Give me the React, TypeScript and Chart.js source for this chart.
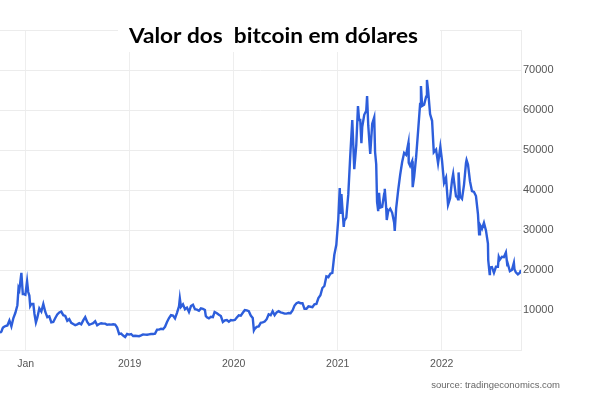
import React, { useEffect, useRef } from "react";
import { Chart, registerables } from "chart.js";

Chart.register(...registerables);

const TITLE = "Valor dos  bitcoin em dólares";
const SOURCE = "source: tradingeconomics.com";

const X_START = "2017-10-03";
const X_END = "2022-10-06";

const yearTicks = [2018, 2019, 2020, 2021, 2022];
const yearLabels = ["Jan", "2019", "2020", "2021", "2022"];
const yTicks = [10000, 20000, 30000, 40000, 50000, 60000, 70000];
const Y_MIN = 0;
const Y_MAX = 80000;

const dates = [
  "2017-10-03", "2017-10-08", "2017-10-12", "2017-10-15", "2017-10-22", "2017-10-29",
  "2017-11-05", "2017-11-12", "2017-11-19", "2017-11-26", "2017-12-03", "2017-12-07",
  "2017-12-10", "2017-12-17", "2017-12-22", "2017-12-24", "2017-12-31", "2018-01-06",
  "2018-01-10", "2018-01-14", "2018-01-17", "2018-01-21", "2018-01-28", "2018-02-01",
  "2018-02-06", "2018-02-11", "2018-02-18", "2018-02-25", "2018-03-04", "2018-03-11",
  "2018-03-18", "2018-03-25", "2018-04-01", "2018-04-08", "2018-04-15", "2018-04-22",
  "2018-04-29", "2018-05-06", "2018-05-13", "2018-05-20", "2018-05-27", "2018-06-03",
  "2018-06-10", "2018-06-17", "2018-06-24", "2018-07-01", "2018-07-08", "2018-07-15",
  "2018-07-22", "2018-07-29", "2018-08-05", "2018-08-12", "2018-08-19", "2018-08-26",
  "2018-09-02", "2018-09-09", "2018-09-16", "2018-09-23", "2018-09-30", "2018-10-07",
  "2018-10-14", "2018-10-21", "2018-10-28", "2018-11-04", "2018-11-11", "2018-11-18",
  "2018-11-25", "2018-12-02", "2018-12-09", "2018-12-16", "2018-12-23", "2018-12-30",
  "2019-01-06", "2019-01-13", "2019-01-20", "2019-01-27", "2019-02-03", "2019-02-10",
  "2019-02-17", "2019-02-24", "2019-03-03", "2019-03-10", "2019-03-17", "2019-03-24",
  "2019-03-31", "2019-04-07", "2019-04-14", "2019-04-21", "2019-04-28", "2019-05-05",
  "2019-05-12", "2019-05-19", "2019-05-26", "2019-06-02", "2019-06-09", "2019-06-16",
  "2019-06-23", "2019-06-26", "2019-06-30", "2019-07-07", "2019-07-14", "2019-07-21",
  "2019-07-28", "2019-08-04", "2019-08-11", "2019-08-18", "2019-08-25", "2019-09-01",
  "2019-09-08", "2019-09-15", "2019-09-22", "2019-09-25", "2019-09-29", "2019-10-06",
  "2019-10-13", "2019-10-20", "2019-10-26", "2019-11-03", "2019-11-10", "2019-11-17",
  "2019-11-24", "2019-12-01", "2019-12-08", "2019-12-15", "2019-12-22", "2019-12-29",
  "2020-01-05", "2020-01-12", "2020-01-19", "2020-01-26", "2020-02-02", "2020-02-09",
  "2020-02-16", "2020-02-23", "2020-03-01", "2020-03-08", "2020-03-12", "2020-03-15",
  "2020-03-22", "2020-03-29", "2020-04-05", "2020-04-12", "2020-04-19", "2020-04-26",
  "2020-05-03", "2020-05-10", "2020-05-17", "2020-05-24", "2020-05-31", "2020-06-07",
  "2020-06-14", "2020-06-21", "2020-06-28", "2020-07-05", "2020-07-12", "2020-07-19",
  "2020-07-26", "2020-08-02", "2020-08-09", "2020-08-16", "2020-08-23", "2020-08-30",
  "2020-09-06", "2020-09-13", "2020-09-20", "2020-09-27", "2020-10-04", "2020-10-11",
  "2020-10-18", "2020-10-25", "2020-11-01", "2020-11-08", "2020-11-15", "2020-11-22",
  "2020-11-29", "2020-12-06", "2020-12-13", "2020-12-20", "2020-12-27", "2021-01-03",
  "2021-01-08", "2021-01-11", "2021-01-14", "2021-01-17", "2021-01-22", "2021-01-24",
  "2021-01-31", "2021-02-07", "2021-02-14", "2021-02-21", "2021-02-28", "2021-03-07",
  "2021-03-13", "2021-03-17", "2021-03-21", "2021-03-25", "2021-03-28", "2021-04-04",
  "2021-04-11", "2021-04-14", "2021-04-18", "2021-04-25", "2021-05-02", "2021-05-09",
  "2021-05-12", "2021-05-16", "2021-05-19", "2021-05-23", "2021-05-26", "2021-05-30",
  "2021-06-06", "2021-06-13", "2021-06-15", "2021-06-20", "2021-06-22", "2021-06-27",
  "2021-07-04", "2021-07-11", "2021-07-18", "2021-07-20", "2021-07-25", "2021-08-01",
  "2021-08-08", "2021-08-15", "2021-08-22", "2021-08-29", "2021-09-06", "2021-09-07",
  "2021-09-12", "2021-09-19", "2021-09-21", "2021-09-26", "2021-10-03", "2021-10-10",
  "2021-10-17", "2021-10-20", "2021-10-24", "2021-10-31", "2021-11-07", "2021-11-10",
  "2021-11-14", "2021-11-21", "2021-11-28", "2021-12-04", "2021-12-12", "2021-12-19",
  "2021-12-27", "2022-01-02", "2022-01-09", "2022-01-16", "2022-01-23", "2022-01-30",
  "2022-02-06", "2022-02-10", "2022-02-13", "2022-02-20", "2022-02-24", "2022-02-27",
  "2022-03-01", "2022-03-06", "2022-03-13", "2022-03-20", "2022-03-27", "2022-03-29",
  "2022-04-03", "2022-04-10", "2022-04-17", "2022-04-24", "2022-05-01", "2022-05-08",
  "2022-05-12", "2022-05-15", "2022-05-22", "2022-05-29", "2022-06-05", "2022-06-12",
  "2022-06-13", "2022-06-18", "2022-06-19", "2022-06-26", "2022-07-03", "2022-07-10",
  "2022-07-17", "2022-07-20", "2022-07-24", "2022-07-31", "2022-08-07", "2022-08-14",
  "2022-08-19", "2022-08-21", "2022-08-28", "2022-09-04", "2022-09-11", "2022-09-13",
  "2022-09-18", "2022-09-25", "2022-10-02", "2022-10-06",
];

const prices = [
  4300, 4600, 5400, 5700, 6000, 6150,
  7400, 5900, 8000, 9300, 11200, 15500,
  15000, 19300, 14000, 14000, 13800, 17200,
  14500, 13600, 11000, 11500, 11500, 9000,
  6900, 8100, 10400, 9600, 11500, 9500,
  8200, 8400, 6900, 7000, 8000, 8900,
  9400, 9600, 8700, 8500, 7300, 7700,
  6800, 6500, 6200, 6400, 6700, 6400,
  7400, 8200, 7000, 6300, 6500, 6700,
  7200, 6200, 6500, 6700, 6600, 6600,
  6300, 6400, 6350, 6450, 6350, 5600,
  4000, 4100, 3600, 3250, 4000, 3850,
  4000, 3500, 3550, 3500, 3450, 3650,
  3900, 3850, 3800, 3900, 4000, 4000,
  4100, 5100, 5100, 5300, 5200, 5800,
  7000, 8000, 8700, 8600, 7900, 9300,
  10900, 12900, 10800, 11400, 10200, 10600,
  9500, 11000, 11300, 10200, 10100, 9800,
  10400, 10300, 10000, 8500, 8200, 7900,
  8300, 8200, 9500, 9200, 8800, 8500,
  7000, 7400, 7500, 7100, 7500, 7400,
  7500, 8100, 8700, 8600, 9300, 10000,
  9900, 9700, 8600, 8000, 4900, 5300,
  5800, 5900, 6800, 6900, 7100, 7700,
  8900, 8700, 9700, 8700, 9400, 9700,
  9400, 9300, 9100, 9100, 9250, 9200,
  9900, 11100, 11700, 11900, 11700, 11700,
  10300, 10300, 10900, 10800, 10700, 11400,
  11500, 13000, 13700, 15500, 16000, 18400,
  18200, 19100, 19300, 23800, 26300, 32800,
  40500, 34000, 39000, 35800, 30800, 32300,
  33100, 38900, 48700, 57500, 45200, 51200,
  61000, 57500, 57500, 51700, 55800, 58800,
  59800, 63500, 56200, 49000, 56600, 58200,
  49500, 46400, 37000, 34700, 39300, 35600,
  35800, 39100, 40300, 35500, 32500, 34700,
  35300, 34300, 31800, 29800, 35400, 39900,
  43800, 47000, 49300, 48800, 51800, 46800,
  46000, 47200, 40700, 43200, 48200, 54800,
  61500, 66000, 61000, 61300, 63300, 67500,
  65000, 59000, 57300, 49400, 50100, 46700,
  50800, 47300, 41800, 43100, 36300, 37900,
  42400, 44000, 42200, 38400, 38300, 37700,
  44400, 38400, 37800, 41300, 46800, 47500,
  46400, 42200, 39700, 39500, 38500, 34000,
  28900, 31300, 30300, 31800, 29900, 26600,
  22500, 19000, 20600, 20700, 19300, 20800,
  20800, 23300, 22600, 23300, 23200, 24400,
  21200, 21500, 19700, 20000, 21800, 20200,
  19400, 18900, 19300, 20000,
];

function toYear(d: string): number {
  const [y, m, dd] = d.split("-").map(Number);
  const start = Date.UTC(y, 0, 1);
  const end = Date.UTC(y + 1, 0, 1);
  return y + (Date.UTC(y, m - 1, dd) - start) / (end - start);
}

const overlayPlugin = {
  id: "overlay",
  afterDraw(chart: any) {
    const ctx = chart.ctx;
    ctx.save();
    ctx.fillStyle = "#ffffff";
    ctx.fillRect(118, 0, 322, 52);
    ctx.font = "bold 20px Lato";
    ctx.fillStyle = "#000000";
    ctx.textBaseline = "alphabetic";
    ctx.textAlign = "left";
    const w = ctx.measureText(TITLE).width;
    const sx = 289 / w;
    ctx.translate(129, 43);
    ctx.scale(sx, 1);
    ctx.fillText(TITLE, 0, 0);
    ctx.restore();

    ctx.save();
    ctx.font = "9.5px 'Liberation Sans'";
    ctx.fillStyle = "#666666";
    ctx.textAlign = "right";
    ctx.textBaseline = "middle";
    ctx.fillText(SOURCE, 560, 385);
    ctx.restore();
  },
};

export default function App() {
  const ref = useRef<HTMLCanvasElement | null>(null);

  useEffect(() => {
    if (!ref.current) return;
    const points = dates.map((d, i) => ({ x: toYear(d), y: prices[i] }));
    const chart = new Chart(ref.current, {
      type: "line",
      data: {
        datasets: [
          {
            data: points,
            borderColor: "#2d5edb",
            borderWidth: 2.4,
            pointRadius: 0,
            tension: 0,
            fill: false,
          },
        ],
      },
      options: {
        animation: false,
        responsive: false,
        maintainAspectRatio: false,
        devicePixelRatio: 1,
        layout: { padding: { top: 30, left: 0, right: 0, bottom: 0 } },
        plugins: {
          legend: { display: false },
          tooltip: { enabled: false },
          title: { display: false },
        },
        scales: {
          x: {
            type: "linear",
            min: toYear(X_START),
            max: toYear(X_END),
            afterBuildTicks: (s: any) => {
              s.ticks = yearTicks.map((v) => ({ value: v }));
            },
            afterFit: (s: any) => {
              s.height = 43;
            },
            ticks: {
              autoSkip: false,
              maxRotation: 0,
              padding: 8,
              color: "#555555",
              font: { family: "'Liberation Sans'", size: 10.5 },
              callback: (_v: any, i: number) => yearLabels[i],
            },
            grid: { color: "#eeeeee", drawTicks: false, lineWidth: 1 },
            border: { display: false },
          },
          y: {
            type: "linear",
            position: "right",
            min: Y_MIN,
            max: Y_MAX,
            afterBuildTicks: (s: any) => {
              s.ticks = [Y_MIN, ...yTicks, Y_MAX].map((v) => ({ value: v }));
            },
            afterFit: (s: any) => {
              s.width = 68;
            },
            ticks: {
              padding: 2,
              color: "#555555",
              font: { family: "'Liberation Sans'", size: 11 },
              callback: (v: any) => (yTicks.includes(Number(v)) ? String(v) : ""),
            },
            grid: { color: "#ececec", drawTicks: false, lineWidth: 1 },
            border: { display: true, color: "#ececec" },
          },
        },
      },
      plugins: [overlayPlugin],
    });
    return () => chart.destroy();
  }, []);

  return (
    <div style={{ position: "absolute", left: 0, top: 0, width: 589, height: 393, background: "#ffffff" }}>
      <canvas ref={ref} width={589} height={393} style={{ width: 589, height: 393, display: "block" }} />
    </div>
  );
}
